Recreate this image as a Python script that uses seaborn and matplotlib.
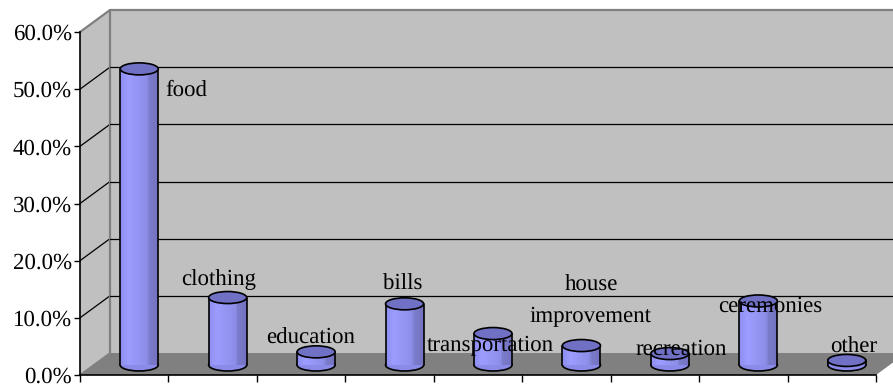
import numpy as np
import matplotlib
matplotlib.use("Agg")
import matplotlib.pyplot as plt
from matplotlib.colors import to_rgb
from matplotlib.patches import Ellipse, Polygon
from matplotlib.transforms import Affine2D, IdentityTransform
from matplotlib.ticker import PercentFormatter
import seaborn as sns

categories = ["food", "clothing", "education", "bills", "transportation",
              "house\nimprovement", "recreation", "ceremonies", "other"]
values = [51.8, 11.8, 2.3, 10.7, 5.5, 3.4, 2.0, 11.2, 0.8]
y_ticks = [0, 10, 20, 30, 40, 50, 60]

W, H = 893, 385
sns.set_theme(style="white")
plt.rcParams["font.family"] = ["Liberation Serif", "DejaVu Serif"]
plt.rcParams["text.hinting"] = "none"
fig = plt.figure(figsize=(W / 100, H / 100), dpi=100)
ax = fig.add_axes([80 / W, 10 / H, 796 / W, 343 / H])
ax.patch.set_visible(False)

BAR_W = 0.43
sns.barplot(x=categories, y=values, ax=ax, color="#9999FF", width=BAR_W,
            saturation=1, legend=False, zorder=3, linewidth=0)
ax.set_xlim(-0.5, 8.5)
ax.set_ylim(0, 60)
fig.canvas.draw()

DX, DY = 30, 22            # full depth of the 3-D box in pixels
mid = ax.transData + Affine2D().translate(15, 10)
back = ax.transData + Affine2D().translate(DX, DY)


def poly(points, color, z):
    p = Polygon(points, closed=True, facecolor=color, edgecolor="none",
                transform=IdentityTransform(), clip_on=False, zorder=z)
    fig.add_artist(p)
    p.set_zorder(z)


def pt(x, y, d=0.0):
    a = ax.transData.transform((x, y))
    return (a[0] + d * DX, a[1] + d * DY)


def seg(a, b, color, lw):
    fig.add_artist(plt.Line2D([a[0], b[0]], [a[1], b[1]], color=color, lw=lw,
                              transform=IdentityTransform(), zorder=3))


# box: back wall, side wall, floor (figure-level, beneath the axes)
ax.set_zorder(5)
poly([pt(-.5, 0, 1), pt(8.5, 0, 1), pt(8.5, 60, 1), pt(-.5, 60, 1)], "#C0C0C0", 1)
poly([pt(-.5, 0), pt(-.5, 0, 1), pt(-.5, 60, 1), pt(-.5, 60)], "#C0C0C0", 1)
poly([pt(-.5, 0), pt(8.5, 0), pt(8.5, 0, 1), pt(-.5, 0, 1)], "#808080", 2)

# grid lines along back wall and side wall
for t in y_ticks[1:]:
    c, lw = ("#808080", 1.6) if t == 60 else ("#000000", 0.9)
    ax.plot([-.5, 8.5], [t, t], color=c, lw=lw, transform=back, clip_on=False, zorder=1)
    seg(pt(-.5, t), pt(-.5, t, 1), c, lw)
seg(pt(-.5, 0, 1), pt(-.5, 60, 1), "#808080", 1.6)
seg(pt(-.5, 0), pt(-.5, 0, 1), "#808080", 1.2)

# cylinders
xs = np.arange(len(values))
ell_h = 2.1
for patch in ax.patches:
    patch.set_transform(mid)
    patch.set_clip_on(False)
    patch.set_edgecolor("none")
stops = [(0.0, "#8C8CEE"), (0.22, "#9C9CFF"), (0.72, "#8C8CE8"), (0.74, "#7C7CCC"), (1.0, "#7272C0")]
n_strip = 24
fr = np.linspace(0, 1, n_strip + 1)
cols = np.array([to_rgb(c) for _, c in stops])
pos = [p for p, _ in stops]
for f0, f1 in zip(fr[:-1], fr[1:]):
    fm = (f0 + f1) / 2
    col = [np.interp(fm, pos, cols[:, k]) for k in range(3)]
    ax.bar(xs - BAR_W / 2 + fm * BAR_W, values, width=(f1 - f0) * BAR_W * 1.05, color=col,
           linewidth=0, transform=mid, clip_on=False, zorder=4)
for x, v in zip(xs, values):
    ax.add_patch(Ellipse((x, 0), BAR_W, ell_h, facecolor="#8A8AE8", edgecolor="black", lw=1.2,
                         transform=mid, clip_on=False, zorder=3.5))
    for sx in (-BAR_W / 2, BAR_W / 2):
        ax.plot([x + sx, x + sx], [0, v], color="black", lw=1.2, transform=mid,
                clip_on=False, zorder=5)
    ax.add_patch(Ellipse((x, v), BAR_W, ell_h, facecolor="#7070C4", edgecolor="black", lw=1.2,
                         transform=mid, clip_on=False, zorder=6))

# labels (anchor pixel positions of each label in the picture)
label_px = [(165, 90, "left"), (219, 280, "center"), (311, 338, "center"),
            (403, 284, "center"), (490, 346, "center"), (591, 301, "center"),
            (681, 349, "center"), (770, 306, "center"), (854, 347, "center")]
for name, (px, py, ha) in zip(categories, label_px):
    ax.text(px, H - py, name, transform=IdentityTransform(), ha=ha, va="center",
            fontsize=16.5, color="black", linespacing=1.65, zorder=8, clip_on=False)

# axes
ax.set_yticks(y_ticks)
ax.yaxis.set_major_formatter(PercentFormatter(100, decimals=1))
ax.set_xticks(np.arange(-0.5, 9))
ax.set_xticklabels([])
ax.tick_params(axis="y", left=True, length=4, width=1, color="black", labelsize=16.5, pad=2,
               labelcolor="black")
ax.tick_params(axis="x", bottom=True, length=5, width=1, color="black")
ax.set_xlabel("")
ax.set_ylabel("")
for s in ("top", "right"):
    ax.spines[s].set_visible(False)
for s in ("left", "bottom"):
    ax.spines[s].set_color("black")
    ax.spines[s].set_linewidth(1.2)

fig.savefig("out.png", dpi=100, facecolor="white")
